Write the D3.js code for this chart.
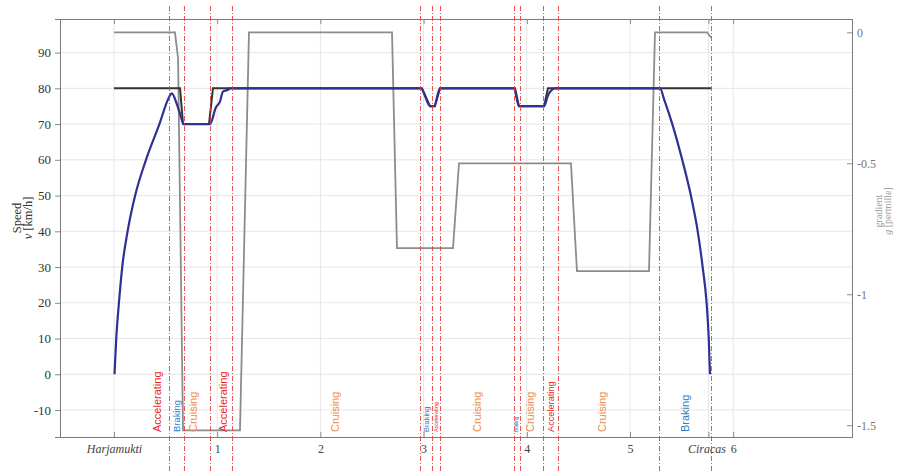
<!DOCTYPE html>
<html>
<head>
<meta charset="utf-8">
<script src="https://cdn.jsdelivr.net/npm/d3@7"></script>
<style>
  body { margin: 0; background: #fff; }
  svg { display: block; }
</style>
</head>
<body>
<div id="chart"></div>
<script>
// train run Harjamukti -> Ciracas, distance in km
var speedKm  = [0.005, 0.022, 0.048, 0.080, 0.132, 0.205, 0.310, 0.440, 0.530, 0.560, 0.607, 0.649, 0.672,
                0.930, 0.988, 1.027, 1.056, 1.105, 1.124, 2.975, 3.062, 3.101, 3.159, 3.876, 3.924, 4.167,
                4.205, 4.234, 4.273, 5.291, 5.333, 5.410, 5.506, 5.590, 5.656, 5.704, 5.742, 5.763, 5.775];
var speedKmh = [0, 10, 20, 30, 40, 50, 60, 70, 77.3, 78.6, 75.8, 72, 70,
                70, 74.7, 76.3, 79.1, 79.6, 80, 80, 75, 75, 80, 80, 75, 75,
                78, 79.3, 80, 80, 76.7, 70, 60, 50, 40, 30, 20, 10, 0];

var limitKm  = [0, 0.640, 0.669, 0.921, 0.959, 2.984, 3.062, 3.110, 3.159, 3.886, 3.924, 4.167, 4.205, 5.785];
var limitKmh = [80, 80, 70, 70, 80, 80, 75, 75, 80, 80, 75, 75, 80, 80];

var gradKm       = [0, 0.591, 0.621, 0.669, 1.221, 1.308, 2.694, 2.742, 3.285, 3.343, 4.428, 4.486, 5.184, 5.242, 5.746, 5.785];
var gradPermille = [0, 0, -0.1, -1.52, -1.52, 0, 0, -0.824, -0.824, -0.5, -0.5, -0.912, -0.912, 0, 0, -0.02];

// driving phases, separated by the red lines
var phaseBounds  = [0, 0.533, 0.678, 0.930, 1.143, 2.970, 3.081, 3.155, 3.876, 3.934, 4.157, 4.298, 5.281, 5.785];
var phaseNames   = ["Accelerating", "Braking", "Cruising", "Accelerating", "Cruising", "Braking", "Accelerating",
                    "Cruising", "Braking", "Cruising", "Accelerating", "Cruising", "Braking"];
var phaseLabelKm = [0.417, 0.610, 0.766, 1.056, 2.141, 3.033, 3.120, 3.517, 3.905, 4.031, 4.234, 4.729, 5.533];

var xTickKm     = [0, 1, 2, 3, 4, 5, 5.76, 6];
var xTickLabels = ["Harjamukti", "1", "2", "3", "4", "5", "Ciracas", "6"];
var speedTicks  = [-10, 0, 10, 20, 30, 40, 50, 60, 70, 80, 90];
var gradTicks   = [0, -0.5, -1, -1.5];

var width = 901, height = 473;
var plotLeft = 60, plotRight = 852, plotTop = 19, plotBottom = 437;
var serif = '"Liberation Serif", "DejaVu Serif", serif';
var sans = '"Liberation Sans", Arial, sans-serif';
var phaseColor = { Accelerating: "#e8262b", Braking: "#2f7bbf", Cruising: "#ee8a4c" };

var svg = d3.select("#chart").append("svg")
  .attr("width", width)
  .attr("height", height);

svg.append("rect").attr("width", width).attr("height", height).attr("fill", "#fff");

var x = d3.scaleLinear().domain([-0.523, 7.151]).range([plotLeft, plotRight]);
var ySpeed = d3.scaleLinear().domain([-17.55, 99.4]).range([plotBottom, plotTop]);
var yGrad = d3.scaleLinear().domain([-1.545, 0.0508]).range([plotBottom, plotTop]);

// grid
svg.append("g").selectAll("line").data(speedTicks).enter().append("line")
  .attr("x1", plotLeft).attr("x2", plotRight)
  .attr("y1", function(d) { return ySpeed(d); })
  .attr("y2", function(d) { return ySpeed(d); })
  .attr("stroke", "#e6e6e6").attr("stroke-width", 1);
svg.append("g").selectAll("line").data(xTickKm).enter().append("line")
  .attr("x1", function(d) { return x(d); })
  .attr("x2", function(d) { return x(d); })
  .attr("y1", plotTop).attr("y2", plotBottom)
  .attr("stroke", "#e6e6e6").attr("stroke-width", 1);

// axes (plain hyphen minus, as in the original)
var xAxis = d3.axisBottom(x).tickValues(xTickKm).tickSize(-5).tickPadding(7)
  .tickFormat(function(d, i) { return xTickLabels[i]; });
var gx = svg.append("g").attr("transform", "translate(0," + plotBottom + ")").call(xAxis);
gx.selectAll("text")
  .style("font-family", serif).style("font-size", "12px").attr("fill", "#444")
  .style("font-style", function(d, i) { return isNaN(+xTickLabels[i]) ? "italic" : "normal"; })
  .attr("dx", function(d, i) { return xTickLabels[i] === "Ciracas" ? -2 : 0; });

var xTop = d3.axisTop(x).tickValues(xTickKm).tickSize(-5).tickFormat("");
svg.append("g").attr("transform", "translate(0," + plotTop + ")").call(xTop);

var yAxis = d3.axisLeft(ySpeed).tickValues(speedTicks).tickSize(5).tickPadding(4).tickFormat(String);
var gy = svg.append("g").attr("transform", "translate(" + plotLeft + ",0)").call(yAxis);
gy.selectAll("text").style("font-family", serif).style("font-size", "13px").attr("fill", "#333");

var yRight = d3.axisRight(yGrad).tickValues(gradTicks).tickSize(-5).tickPadding(5).tickFormat(String);
var gr = svg.append("g").attr("transform", "translate(" + plotRight + ",0)").call(yRight);
gr.selectAll("text").style("font-family", serif).style("font-size", "12px").attr("fill", "#777");

svg.selectAll(".domain").attr("stroke", "#7a7a7a");
svg.selectAll(".tick line").attr("stroke", "#8a8a8a");

// axis titles
svg.append("text")
  .attr("transform", "translate(21,218) rotate(-90)")
  .attr("text-anchor", "middle")
  .style("font-family", serif).style("font-size", "12.5px").attr("fill", "#333")
  .text("Speed");
var vt = svg.append("text")
  .attr("transform", "translate(32,218) rotate(-90)")
  .attr("text-anchor", "middle")
  .style("font-family", serif).style("font-size", "12.5px").attr("fill", "#333");
vt.append("tspan").style("font-style", "italic").text("v");
vt.append("tspan").text(" [km/h]");

svg.append("text")
  .attr("transform", "translate(882,211) rotate(-90)")
  .attr("text-anchor", "middle")
  .style("font-family", serif).style("font-size", "10px").attr("fill", "#999")
  .text("gradient");
var gt = svg.append("text")
  .attr("transform", "translate(891,211) rotate(-90)")
  .attr("text-anchor", "middle")
  .style("font-family", serif).style("font-size", "10px").attr("fill", "#999");
gt.append("tspan").style("font-style", "italic").text("g");
gt.append("tspan").text(" [permille]");

// gradient, speed limit, speed
var gradData = gradKm.map(function(k, i) { return [k, gradPermille[i]]; });
var limitData = limitKm.map(function(k, i) { return [k, limitKmh[i]]; });
var speedData = speedKm.map(function(k, i) { return [k, speedKmh[i]]; });

svg.append("path").datum(gradData)
  .attr("fill", "none").attr("stroke", "#8c8c8c").attr("stroke-width", 1.8)
  .attr("d", d3.line()
    .x(function(d) { return x(d[0]); })
    .y(function(d) { return yGrad(d[1]); }));

svg.append("path").datum(limitData)
  .attr("fill", "none").attr("stroke", "#333").attr("stroke-width", 2)
  .attr("d", d3.line()
    .x(function(d) { return x(d[0]); })
    .y(function(d) { return ySpeed(d[1]); }));

svg.append("path").datum(speedData)
  .attr("fill", "none").attr("stroke", "#2e3192").attr("stroke-width", 2.2)
  .attr("stroke-linejoin", "round")
  .attr("d", d3.line().curve(d3.curveMonotoneX)
    .x(function(d) { return x(d[0]); })
    .y(function(d) { return ySpeed(d[1]); }));

// red dash-dot phase boundaries
svg.append("g").selectAll("line").data(phaseBounds.slice(1)).enter().append("line")
  .attr("x1", function(d) { return Math.round(x(d)) + 0.5; })
  .attr("x2", function(d) { return Math.round(x(d)) + 0.5; })
  .attr("y1", 6).attr("y2", height)
  .attr("stroke", "#e23a3a").attr("stroke-opacity", 0.85).attr("stroke-width", 1)
  .attr("stroke-dasharray", "5,2,1,2");

// phase labels, sized to fit between the boundaries
svg.append("g").selectAll("text").data(phaseNames).enter().append("text")
  .attr("transform", function(d, i) { return "translate(" + x(phaseLabelKm[i]) + "," + (plotBottom - 5) + ") rotate(-90)"; })
  .attr("dominant-baseline", "central")
  .style("font-family", sans)
  .style("font-size", function(d, i) {
    var gap = x(phaseBounds[i + 1]) - x(phaseBounds[i]);
    return Math.min(11, 1.2 + 0.55 * gap) + "px";
  })
  .attr("fill", function(d) { return phaseColor[d]; })
  .text(function(d) { return d; });
</script>
</body>
</html>
